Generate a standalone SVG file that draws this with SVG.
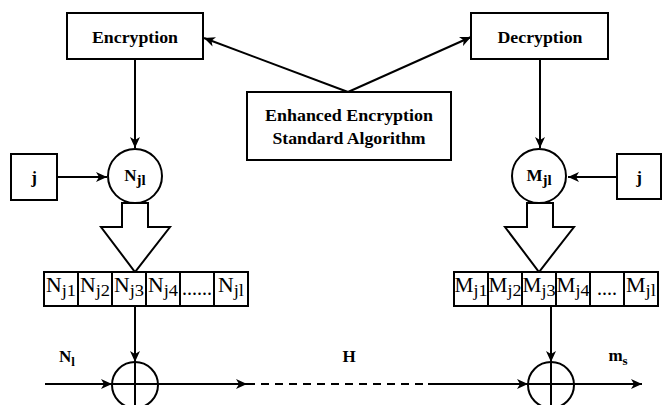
<svg xmlns="http://www.w3.org/2000/svg" width="662" height="405" viewBox="0 0 662 405">
<style>
.box{fill:#fff;stroke:#000;stroke-width:2}
.ln{fill:none;stroke:#000;stroke-width:2}
.lb{font-family:"Liberation Serif","Times New Roman",serif;font-weight:bold;font-size:17px;text-anchor:middle;fill:#000}
.cl{font-family:"Liberation Serif","Times New Roman",serif;font-size:20px;text-anchor:middle;fill:#000}
</style>
<defs>
<marker id="ah" markerWidth="12" markerHeight="10" refX="11" refY="5" orient="auto" markerUnits="userSpaceOnUse">
<path d="M0,0 L11,5 L0,10 L3,5 z" fill="#000"/>
</marker>
</defs>
<rect width="662" height="405" fill="#fff"/>
<g id="connectors">
<line class="ln" x1="348" y1="92" x2="204" y2="38" marker-end="url(#ah)"/>
<line class="ln" x1="348" y1="92" x2="471" y2="37" marker-end="url(#ah)"/>
<line class="ln" x1="135" y1="59" x2="135" y2="148" marker-end="url(#ah)"/>
<line class="ln" x1="540" y1="59" x2="540" y2="148" marker-end="url(#ah)"/>
<line class="ln" x1="57" y1="177" x2="107" y2="177" marker-end="url(#ah)"/>
<line class="ln" x1="617" y1="177" x2="568" y2="177" marker-end="url(#ah)"/>
<line class="ln" x1="135" y1="306" x2="135" y2="362" marker-end="url(#ah)"/>
<line class="ln" x1="551" y1="306" x2="551" y2="362" marker-end="url(#ah)"/>
<line class="ln" x1="45" y1="384" x2="112" y2="384" marker-end="url(#ah)"/>
<line class="ln" x1="158" y1="384" x2="247" y2="384" marker-end="url(#ah)"/>
<line class="ln" x1="247" y1="384" x2="428" y2="384" stroke-dasharray="8,6"/>
<line class="ln" x1="428" y1="384" x2="528" y2="384" marker-end="url(#ah)"/>
<line class="ln" x1="574" y1="384" x2="642" y2="384" marker-end="url(#ah)"/>
</g>
<g id="encryption">
<rect class="box" x="67" y="13" width="136" height="46"/>
<text class="lb" x="135" y="43" textLength="86" lengthAdjust="spacingAndGlyphs">Encryption</text>
</g>
<g id="decryption">
<rect class="box" x="471" y="13" width="137" height="46"/>
<text class="lb" x="540" y="43" textLength="85" lengthAdjust="spacingAndGlyphs">Decryption</text>
</g>
<g id="ees">
<rect class="box" x="247" y="92" width="204" height="68"/>
<text class="lb" x="349" y="121" textLength="168" lengthAdjust="spacingAndGlyphs">Enhanced Encryption</text>
<text class="lb" x="349" y="144" textLength="153" lengthAdjust="spacingAndGlyphs">Standard Algorithm</text>
</g>
<g id="j-left">
<rect class="box" x="11" y="154" width="46" height="46"/>
<text class="lb" x="34" y="183" font-size="18">j</text>
</g>
<g id="j-right">
<rect class="box" x="617" y="154" width="44" height="45"/>
<text class="lb" x="639" y="183" font-size="18">j</text>
</g>
<g id="njl">
<circle class="box" cx="135" cy="176" r="27"/>
<text class="lb" x="135" y="181" font-size="18"><tspan>N</tspan><tspan font-size="15" dy="4">jl</tspan></text>
</g>
<g id="mjl">
<circle class="box" cx="539" cy="176" r="27"/>
<text class="lb" x="539" y="181" font-size="18"><tspan>M</tspan><tspan font-size="15" dy="4">jl</tspan></text>
</g>
<g id="n-expand">
<polygon class="box" points="122,203 122,227 101,227 135,272 170,227 148,227 148,203"/>
</g>
<g id="m-expand">
<polygon class="box" points="527,203 527,227 505,227 539,272 574,227 553,227 553,203"/>
</g>
<g id="n-array">
<rect class="box" x="44" y="272" width="204" height="34"/>
<path class="ln" d="M78,272V306M112,272V306M146,272V306M180,272V306M214,272V306"/>
<text class="cl" x="61" y="292" textLength="30" lengthAdjust="spacingAndGlyphs"><tspan>N</tspan><tspan font-size="17" dy="4">j1</tspan></text>
<text class="cl" x="95" y="292" textLength="30" lengthAdjust="spacingAndGlyphs"><tspan>N</tspan><tspan font-size="17" dy="4">j2</tspan></text>
<text class="cl" x="129" y="292" textLength="30" lengthAdjust="spacingAndGlyphs"><tspan>N</tspan><tspan font-size="17" dy="4">j3</tspan></text>
<text class="cl" x="163" y="292" textLength="30" lengthAdjust="spacingAndGlyphs"><tspan>N</tspan><tspan font-size="17" dy="4">j4</tspan></text>
<text class="cl" x="197" y="295" font-size="15">......</text>
<text class="cl" x="231" y="292" textLength="26" lengthAdjust="spacingAndGlyphs"><tspan>N</tspan><tspan font-size="17" dy="4">jl</tspan></text>
</g>
<g id="m-array">
<rect class="box" x="454" y="272" width="204" height="34"/>
<path class="ln" d="M488,272V306M522,272V306M556,272V306M590,272V306M624,272V306"/>
<text class="cl" x="471" y="292" textLength="33" lengthAdjust="spacingAndGlyphs"><tspan>M</tspan><tspan font-size="17" dy="4">j1</tspan></text>
<text class="cl" x="505" y="292" textLength="33" lengthAdjust="spacingAndGlyphs"><tspan>M</tspan><tspan font-size="17" dy="4">j2</tspan></text>
<text class="cl" x="539" y="292" textLength="33" lengthAdjust="spacingAndGlyphs"><tspan>M</tspan><tspan font-size="17" dy="4">j3</tspan></text>
<text class="cl" x="573" y="292" textLength="33" lengthAdjust="spacingAndGlyphs"><tspan>M</tspan><tspan font-size="17" dy="4">j4</tspan></text>
<text class="cl" x="607" y="295" font-size="15">....</text>
<text class="cl" x="641" y="292" textLength="30" lengthAdjust="spacingAndGlyphs"><tspan>M</tspan><tspan font-size="17" dy="4">jl</tspan></text>
</g>
<g id="xor-n">
<circle class="ln" cx="135" cy="385" r="23"/>
<path class="ln" d="M112,384H158M135,362V408"/>
</g>
<g id="xor-m">
<circle class="ln" cx="551" cy="385" r="23"/>
<path class="ln" d="M528,384H574M551,362V408"/>
</g>
<g id="labels">
<text class="lb" x="67" y="362" font-size="16"><tspan>N</tspan><tspan font-size="13" dy="4">l</tspan></text>
<text class="lb" x="349" y="362" font-size="16">H</text>
<text class="lb" x="618" y="361" font-size="16"><tspan>m</tspan><tspan font-size="13" dy="4">s</tspan></text>
</g>
</svg>
